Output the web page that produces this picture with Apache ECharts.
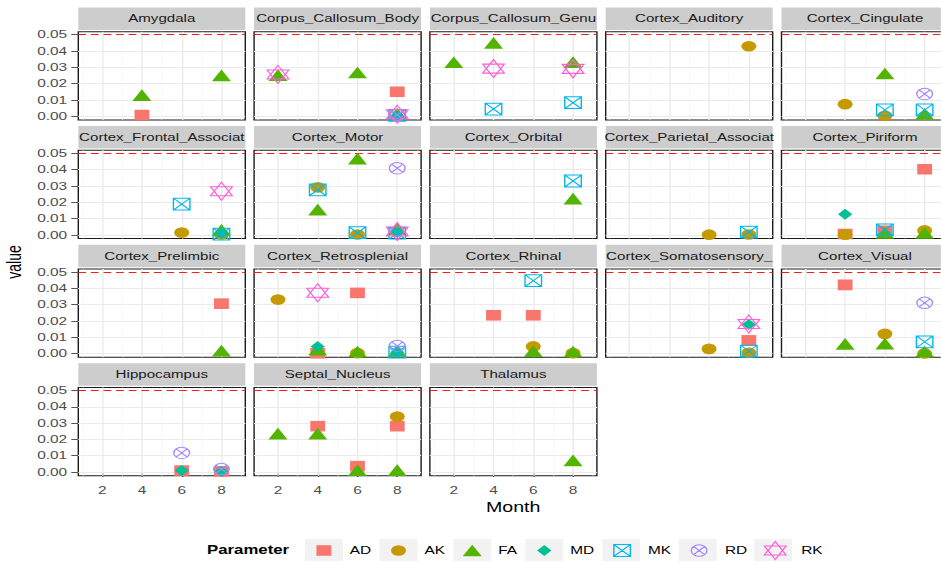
<!DOCTYPE html>
<html>
<head>
<meta charset="utf-8">
<script src="https://cdn.jsdelivr.net/npm/echarts@6/dist/echarts.min.js"></script>
<style>
  html, body { margin: 0; padding: 0; background: #ffffff; overflow: hidden; }
  #wrap { position: relative; width: 941px; height: 563px; overflow: hidden; }
  #chart { position: absolute; left: 0; top: 0; height: 563px; transform-origin: 0 0; }
</style>
</head>
<body>
<div id="wrap"><div id="chart"></div></div>
<script>
// ---- data ----------------------------------------------------------------
const regions = [
  'Amygdala', 'Corpus_Callosum_Body', 'Corpus_Callosum_Genu', 'Cortex_Auditory', 'Cortex_Cingulate',
  'Cortex_Frontal_Association', 'Cortex_Motor', 'Cortex_Orbital', 'Cortex_Parietal_Association', 'Cortex_Piriform',
  'Cortex_Prelimbic', 'Cortex_Retrosplenial', 'Cortex_Rhinal', 'Cortex_Somatosensory_1', 'Cortex_Visual',
  'Hippocampus', 'Septal_Nucleus', 'Thalamus'
];
const params = ['AD', 'AK', 'FA', 'MD', 'MK', 'RD', 'RK'];
const months = [2, 4, 6, 8];
const yTicks = [0, 0.01, 0.02, 0.03, 0.04, 0.05];
const threshold = 0.05;

// [region, month, p-value]
const AD = [
  ['Amygdala', 4, 0.0007],
  ['Corpus_Callosum_Body', 8, 0.0150],
  ['Cortex_Piriform', 4, 0.0005], ['Cortex_Piriform', 6, 0.0025], ['Cortex_Piriform', 8, 0.0402],
  ['Cortex_Prelimbic', 8, 0.0305],
  ['Cortex_Retrosplenial', 4, 0.0001], ['Cortex_Retrosplenial', 6, 0.0371],
  ['Cortex_Rhinal', 4, 0.0234], ['Cortex_Rhinal', 6, 0.0234],
  ['Cortex_Somatosensory_1', 8, 0.0080],
  ['Cortex_Visual', 4, 0.0420],
  ['Hippocampus', 6, 0.0009], ['Hippocampus', 8, 0.0004],
  ['Septal_Nucleus', 4, 0.0281], ['Septal_Nucleus', 6, 0.0036], ['Septal_Nucleus', 8, 0.0281]
];
const AK = [
  ['Cortex_Auditory', 8, 0.0429],
  ['Cortex_Cingulate', 4, 0.0074], ['Cortex_Cingulate', 6, 0.0003],
  ['Cortex_Frontal_Association', 6, 0.0014], ['Cortex_Frontal_Association', 8, 0.0002],
  ['Cortex_Motor', 4, 0.0291], ['Cortex_Motor', 6, 0.0002],
  ['Cortex_Parietal_Association', 6, 0.0001], ['Cortex_Parietal_Association', 8, 0.0002],
  ['Cortex_Piriform', 4, 0.0001], ['Cortex_Piriform', 8, 0.0027],
  ['Cortex_Retrosplenial', 2, 0.0330], ['Cortex_Retrosplenial', 6, 0.0002],
  ['Cortex_Rhinal', 6, 0.0043], ['Cortex_Rhinal', 8, 0.0002],
  ['Cortex_Somatosensory_1', 6, 0.0028], ['Cortex_Somatosensory_1', 8, 0.0004],
  ['Cortex_Visual', 6, 0.0120], ['Cortex_Visual', 8, 0.0000],
  ['Septal_Nucleus', 8, 0.0340]
];
const FA = [
  ['Amygdala', 4, 0.0118], ['Amygdala', 8, 0.0239],
  ['Corpus_Callosum_Body', 2, 0.0240], ['Corpus_Callosum_Body', 6, 0.0256], ['Corpus_Callosum_Body', 8, 0.0004],
  ['Corpus_Callosum_Genu', 2, 0.0319], ['Corpus_Callosum_Genu', 4, 0.0437], ['Corpus_Callosum_Genu', 8, 0.0320],
  ['Cortex_Cingulate', 6, 0.0250], ['Cortex_Cingulate', 8, 0.0002],
  ['Cortex_Frontal_Association', 8, 0.0018],
  ['Cortex_Motor', 4, 0.0142], ['Cortex_Motor', 6, 0.0455], ['Cortex_Motor', 8, 0.0023],
  ['Cortex_Orbital', 8, 0.0210],
  ['Cortex_Piriform', 6, 0.0000], ['Cortex_Piriform', 8, 0.0000],
  ['Cortex_Prelimbic', 8, 0.0005],
  ['Cortex_Retrosplenial', 4, 0.0012], ['Cortex_Retrosplenial', 6, 0.0000], ['Cortex_Retrosplenial', 8, 0.0003],
  ['Cortex_Rhinal', 6, 0.0002], ['Cortex_Rhinal', 8, 0.0000],
  ['Cortex_Visual', 4, 0.0047], ['Cortex_Visual', 6, 0.0048], ['Cortex_Visual', 8, 0.0000],
  ['Septal_Nucleus', 2, 0.0223], ['Septal_Nucleus', 4, 0.0224], ['Septal_Nucleus', 6, 0.0000], ['Septal_Nucleus', 8, 0.0000],
  ['Thalamus', 8, 0.0059]
];
const MD = [
  ['Corpus_Callosum_Body', 8, 0.0003],
  ['Cortex_Frontal_Association', 8, 0.0008],
  ['Cortex_Motor', 8, 0.0015],
  ['Cortex_Piriform', 4, 0.0126],
  ['Cortex_Retrosplenial', 4, 0.0043], ['Cortex_Retrosplenial', 8, 0.0008],
  ['Cortex_Somatosensory_1', 8, 0.0178],
  ['Hippocampus', 6, 0.0010], ['Hippocampus', 8, 0.0003]
];
const MK = [
  ['Corpus_Callosum_Body', 8, 0.0005],
  ['Corpus_Callosum_Genu', 4, 0.0044], ['Corpus_Callosum_Genu', 8, 0.0083],
  ['Cortex_Cingulate', 6, 0.0039], ['Cortex_Cingulate', 8, 0.0039],
  ['Cortex_Frontal_Association', 6, 0.0188], ['Cortex_Frontal_Association', 8, 0.0005],
  ['Cortex_Motor', 4, 0.0276], ['Cortex_Motor', 6, 0.0013], ['Cortex_Motor', 8, 0.0010],
  ['Cortex_Orbital', 8, 0.0330],
  ['Cortex_Parietal_Association', 8, 0.0017],
  ['Cortex_Piriform', 6, 0.0031],
  ['Cortex_Retrosplenial', 8, 0.0008],
  ['Cortex_Rhinal', 6, 0.0446],
  ['Cortex_Somatosensory_1', 8, 0.0014],
  ['Cortex_Visual', 8, 0.0071]
];
const RD = [
  ['Corpus_Callosum_Body', 8, 0.0008],
  ['Cortex_Cingulate', 8, 0.0136],
  ['Cortex_Motor', 8, 0.0408],
  ['Cortex_Retrosplenial', 8, 0.0046],
  ['Cortex_Visual', 8, 0.0310],
  ['Hippocampus', 6, 0.0117], ['Hippocampus', 8, 0.0018]
];
const RK = [
  ['Corpus_Callosum_Body', 2, 0.0256], ['Corpus_Callosum_Body', 8, 0.0012],
  ['Corpus_Callosum_Genu', 4, 0.0292], ['Corpus_Callosum_Genu', 8, 0.0290],
  ['Cortex_Frontal_Association', 8, 0.0267],
  ['Cortex_Motor', 8, 0.0020],
  ['Cortex_Retrosplenial', 4, 0.0372],
  ['Cortex_Somatosensory_1', 8, 0.0180]
];
const paramData = { AD, AK, FA, MD, MK, RD, RK };

// ---- layout & style -------------------------------------------------------
// The figure is laid out on a narrower canvas and widened horizontally.
const SX = 1.4;
const W = 941 / SX;
const FONT = '"Liberation Sans", Arial, sans-serif';
const NCOL = 5;
const PANEL_W = 167 / SX;
const COL_X0 = 78.3 / SX;
const COL_STEP = 175.8 / SX;
const ROW_Y0 = 31.7;
const ROW_STEP = 118.6;
const PANEL_H = 88.3;
const STRIP_H = 22.5;
const STRIP_GAP = 1.7;
const X_MIN = 0.8, X_MAX = 9.2;
const Y_MIN = -0.0023, Y_MAX = 0.0518;

const colors = {
  AD: '#F8766D', AK: '#C49A00', FA: '#53B400', MD: '#00C094',
  MK: '#00B6EB', RD: '#A58AFF', RK: '#FB61D7'
};

// Shape outlines, drawn around a centre (cx, cy) with width w and height h.
const shapes = {
  square: (cx, cy, w, h) =>
    `M${cx - w / 2},${cy - h / 2}L${cx + w / 2},${cy - h / 2}L${cx + w / 2},${cy + h / 2}L${cx - w / 2},${cy + h / 2}Z`,
  circle: (cx, cy, w, h) =>
    `M${cx + w / 2},${cy}A${w / 2},${h / 2} 0 1 1 ${cx - w / 2},${cy}A${w / 2},${h / 2} 0 1 1 ${cx + w / 2},${cy}Z`,
  triangle: (cx, cy, w, h) =>
    `M${cx},${cy - h / 2}L${cx + w / 2},${cy + h / 2}L${cx - w / 2},${cy + h / 2}Z`,
  diamond: (cx, cy, w, h) =>
    `M${cx},${cy - h / 2}L${cx + w / 2},${cy}L${cx},${cy + h / 2}L${cx - w / 2},${cy}Z`,
  squareCross: (cx, cy, w, h) =>
    shapes.square(cx, cy, w, h) +
    `M${cx - w / 2},${cy - h / 2}L${cx + w / 2},${cy + h / 2}M${cx + w / 2},${cy - h / 2}L${cx - w / 2},${cy + h / 2}`,
  circleCross: (cx, cy, w, h) => {
    const dx = w / 2 * Math.SQRT1_2, dy = h / 2 * Math.SQRT1_2;
    return shapes.circle(cx, cy, w, h) +
      `M${cx - dx},${cy - dy}L${cx + dx},${cy + dy}M${cx + dx},${cy - dy}L${cx - dx},${cy + dy}`;
  },
  star: (cx, cy, w, h) =>
    `M${cx},${cy - h / 2}L${cx + w / 2},${cy + h / 4}L${cx - w / 2},${cy + h / 4}Z` +
    `M${cx},${cy + h / 2}L${cx + w / 2},${cy - h / 4}L${cx - w / 2},${cy - h / 4}Z`
};

const markers = {
  AD: { shape: 'square', w: 10.6, h: 10.6, hollow: false, dy: 0 },
  AK: { shape: 'circle', w: 10.7, h: 10.7, hollow: false, dy: 0 },
  FA: { shape: 'triangle', w: 13.6, h: 11.7, hollow: false, dy: -11.7 / 6 },
  MD: { shape: 'diamond', w: 10.2, h: 11, hollow: false, dy: 0 },
  MK: { shape: 'squareCross', w: 11.8, h: 11.8, hollow: true, dy: 0 },
  RD: { shape: 'circleCross', w: 11.2, h: 11.5, hollow: true, dy: 0 },
  RK: { shape: 'star', w: 15.5, h: 18, hollow: true, dy: 0 }
};

function markerStyle(p) {
  return markers[p].hollow
    ? { color: 'rgba(0,0,0,0)', borderColor: colors[p], borderWidth: 1, opacity: 1 }
    : { color: colors[p], borderWidth: 0, opacity: 1 };
}

const KEY_W = 27, KEY_H = 22;
function legendIcon(p) {
  const m = markers[p];
  return 'path://' + `M0,0M${KEY_W},${KEY_H}` + shapes[m.shape](KEY_W / 2, KEY_H / 2, m.w, m.h);
}

// ---- build panels ----------------------------------------------------------
const chartEl = document.getElementById('chart');
chartEl.style.width = W + 'px';
chartEl.style.transform = `scaleX(${SX})`;

const grids = [], xAxes = [], yAxes = [], series = [], graphics = [];
const gridMajor = { color: '#EBEBEB', width: 1, type: 'solid' };
const gridMinor = { color: '#F5F5F5', width: 0.6, type: 'solid' };
const xMinor = [1, 3, 5, 7, 9];
const yMinor = [0.005, 0.015, 0.025, 0.035, 0.045];
const nPanels = regions.length;
const lastRow = Math.floor((nPanels - 1) / NCOL);
const STRIP_FONT = 10.8;

regions.forEach((region, i) => {
  const col = i % NCOL, row = Math.floor(i / NCOL);
  const left = COL_X0 + col * COL_STEP;
  const top = ROW_Y0 + row * ROW_STEP;
  const showX = row === lastRow;
  const showY = col === 0;

  grids.push({
    left, top, width: PANEL_W, height: PANEL_H,
    containLabel: false, outerBoundsMode: 'none',
    show: true, backgroundColor: '#ffffff', borderColor: '#1a1a1a', borderWidth: 1
  });
  xAxes.push({
    gridIndex: i, type: 'value', min: X_MIN, max: X_MAX,
    axisLine: { show: false }, splitLine: { show: false },
    axisTick: { show: showX, customValues: months, length: 5, lineStyle: { color: '#555', width: 1 } },
    axisLabel: { show: showX, customValues: months, margin: 9, color: '#4D4D4D', fontSize: 11, fontFamily: FONT }
  });
  yAxes.push({
    gridIndex: i, type: 'value', min: Y_MIN, max: Y_MAX,
    axisLine: { show: false }, splitLine: { show: false },
    axisTick: { show: showY, customValues: yTicks, length: 5, lineStyle: { color: '#555', width: 1 } },
    axisLabel: {
      show: showY, customValues: yTicks, margin: 8, color: '#4D4D4D', fontSize: 11, fontFamily: FONT,
      formatter: v => v.toFixed(2)
    }
  });

  // background grid lines and the dashed significance threshold
  const lines = [];
  xMinor.forEach(v => lines.push({ xAxis: v, lineStyle: gridMinor }));
  yMinor.forEach(v => lines.push({ yAxis: v, lineStyle: gridMinor }));
  months.forEach(v => lines.push({ xAxis: v, lineStyle: gridMajor }));
  yTicks.filter(v => v !== threshold).forEach(v => lines.push({ yAxis: v, lineStyle: gridMajor }));
  lines.push({ yAxis: threshold, lineStyle: { color: '#FF1A1A', width: 1, type: [5.5, 3.5] } });
  series.push({
    type: 'scatter', xAxisIndex: i, yAxisIndex: i, data: [], silent: true, z: 1,
    markLine: {
      silent: true, animation: false, symbol: ['none', 'none'], z: 1,
      label: { show: false }, emphasis: { disabled: true }, data: lines
    }
  });

  // facet strip
  graphics.push({
    type: 'rect', silent: true, z: 0,
    shape: { x: left, y: top - STRIP_GAP - STRIP_H, width: PANEL_W, height: STRIP_H },
    style: { fill: '#CDCDCD' }
  });
  graphics.push({
    type: 'text', silent: true, z: 1,
    x: left + PANEL_W / 2, y: top - STRIP_GAP - STRIP_H / 2,
    style: {
      text: region, fill: '#1A1A1A', font: `${STRIP_FONT}px ${FONT}`,
      align: 'center', verticalAlign: 'middle',
      width: PANEL_W + 3, overflow: 'truncate', ellipsis: ''
    }
  });
});

// points: one series per parameter and panel
params.forEach(p => {
  const m = markers[p];
  regions.forEach((region, i) => {
    const pts = paramData[p].filter(d => d[0] === region).map(d => [d[1], d[2]]);
    if (!pts.length) return;
    series.push({
      type: 'scatter', name: p, xAxisIndex: i, yAxisIndex: i, z: 3, silent: true,
      data: pts,
      symbol: 'path://' + shapes[m.shape](0, 0, m.w, m.h),
      symbolSize: [m.w, m.h],
      symbolKeepAspect: false,
      symbolOffset: [0, m.dy],
      itemStyle: markerStyle(p),
      emphasis: { disabled: true }
    });
  });
});

// axis titles and legend title
graphics.push({
  type: 'text', silent: true, x: (78.3 + 948) / 2 / SX, y: 507,
  style: { text: 'Month', fill: '#000', font: `14px ${FONT}`, align: 'center', verticalAlign: 'middle' }
});
graphics.push({
  type: 'text', silent: true, x: 14.5 / SX, y: 262, rotation: Math.PI / 2,
  style: { text: 'value', fill: '#000', font: `14px ${FONT}`, align: 'center', verticalAlign: 'middle' }
});
graphics.push({
  type: 'text', silent: true, x: 207 / SX, y: 550,
  style: { text: 'Parameter', fill: '#000', font: `bold 12px ${FONT}`, align: 'left', verticalAlign: 'middle' }
});

// legend keys sit on light grey squares laid out the same way the legend places its items
const LEGEND_LEFT = 305 / SX;
const LEGEND_TOP = 550 - KEY_H / 2;
const LEGEND_GAP = 6;
const LEGEND_FONT = 11;
const measure = document.createElement('canvas').getContext('2d');
measure.font = `${LEGEND_FONT}px ${FONT}`;
let keyX = LEGEND_LEFT;
params.forEach(p => {
  graphics.push({
    type: 'rect', silent: true, z: 0,
    shape: { x: keyX, y: LEGEND_TOP, width: KEY_W, height: KEY_H },
    style: { fill: '#F2F2F2' }
  });
  keyX += KEY_W + 5 + measure.measureText(p).width + LEGEND_GAP;
});

const option = {
  animation: false,
  backgroundColor: '#ffffff',
  grid: grids,
  xAxis: xAxes,
  yAxis: yAxes,
  legend: {
    orient: 'horizontal', left: LEGEND_LEFT, top: LEGEND_TOP, padding: 0, z: 10,
    itemWidth: KEY_W, itemHeight: KEY_H, itemGap: LEGEND_GAP, selectedMode: false,
    textStyle: { fontSize: LEGEND_FONT, fontFamily: FONT, color: '#000' },
    data: params.map(p => ({ name: p, icon: legendIcon(p), itemStyle: markerStyle(p) }))
  },
  graphic: graphics,
  series
};

const chart = echarts.init(chartEl, null, { renderer: 'svg', width: W, height: 563 });
chart.setOption(option);
</script>
</body>
</html>
